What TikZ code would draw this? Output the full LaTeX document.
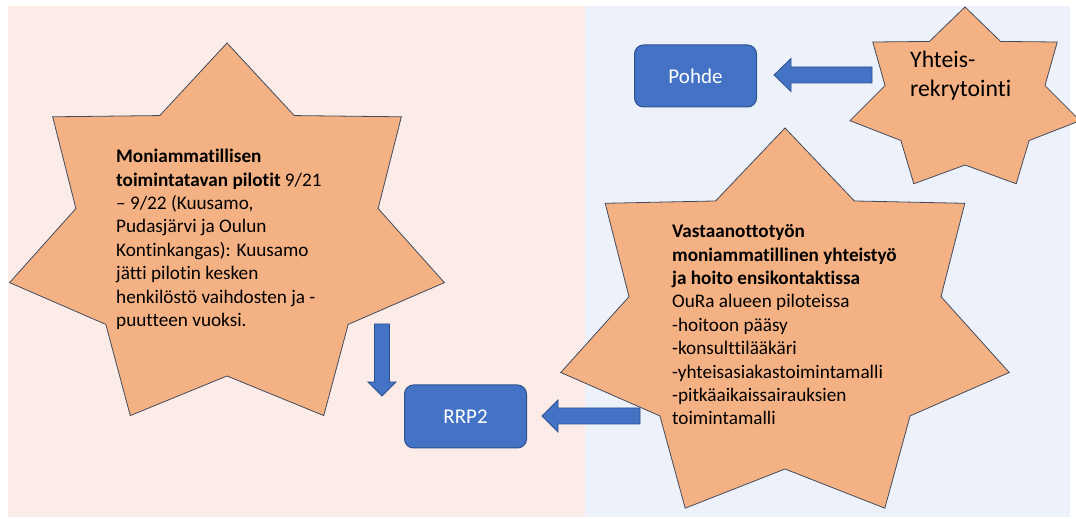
\documentclass[tikz,border=0pt]{standalone}
\usepackage{fontspec}
\setmainfont{Carlito}[Ligatures=NoCommon]
\usetikzlibrary{calc}
\definecolor{bgpink}{RGB}{251,236,232}
\definecolor{bgblue}{RGB}{237,241,249}
\definecolor{starfill}{RGB}{244,177,131}
\definecolor{starline}{RGB}{66,75,94}
\definecolor{boxfill}{RGB}{68,114,196}
\definecolor{boxline}{RGB}{47,82,143}
\tikzset{
  sevenstar/.style={fill=starfill, draw=starline, line width=0.8pt, line join=miter},
  bluebox/.style={rectangle, rounded corners=9pt, fill=boxfill, draw=boxline, line width=1pt,
    minimum width=122pt, minimum height=62pt, text=white, font=\fontsize{21}{25}\selectfont},
  startext/.style={anchor=north west, inner sep=0pt, align=left, font=\fontsize{19.2}{23.4}\selectfont},
  blockarrow/.style={fill=boxfill, draw=boxline, line width=0.8pt, line join=miter}
}
\begin{document}
\begin{tikzpicture}[x=1pt, y=1pt]
		\useasboundingbox (0,0) rectangle (1076,519);
		\fill[bgpink] (8,2) rectangle (585,513);
		\fill[bgblue] (585,2) rectangle (1070,513);
		% tähdet
		\begin{scope}[shift={(227,280)}]
			\draw[sevenstar] (90:223pt and 196pt) \foreach \k in {1,...,6}{
				-- ({90+(\k-0.5)*360/7}:155pt and 137pt) -- ({90+\k*360/7}:223pt and 196pt)}
				-- ({90-0.5*360/7}:155pt and 137pt) -- cycle;
		\end{scope}
		\begin{scope}[shift={(785,191)}]
			\draw[sevenstar] (90:230pt and 200pt) \foreach \k in {1,...,6}{
				-- ({90+(\k-0.5)*360/7}:160pt and 141pt) -- ({90+\k*360/7}:230pt and 200pt)}
				-- ({90-0.5*360/7}:160pt and 141pt) -- cycle;
		\end{scope}
		\begin{scope}[shift={(965,419)}]
			\draw[sevenstar] (90:118pt and 93pt) \foreach \k in {1,...,6}{
				-- ({90+(\k-0.5)*360/7}:82pt and 65pt) -- ({90+\k*360/7}:118pt and 93pt)}
				-- ({90-0.5*360/7}:82pt and 65pt) -- cycle;
		\end{scope}
		% tekstit
		\node[startext] (pilotit) at (116,370) {\textbf{Moniammatillisen}\\
			\textbf{toimintatavan pilotit} 9/21\\
			– 9/22 (Kuusamo,\\
			Pudasjärvi ja Oulun\\
			Kontinkangas): Kuusamo\\
			jätti pilotin kesken\\
			henkilöstö vaihdosten ja -\\
			puutteen vuoksi.};
		\node[startext] (vastaanotto) at (672,294.5) {\textbf{Vastaanottotyön}\\
			\textbf{moniammatillinen yhteistyö}\\
			\textbf{ja hoito ensikontaktissa}\\
			OuRa alueen piloteissa\\
			-hoitoon pääsy\\
			-konsulttilääkäri\\
			-yhteisasiakastoimintamalli\\
			-pitkäaikaissairauksien\\
			toimintamalli};
		\node[startext, font=\fontsize{23.7}{28.5}\selectfont] (rekry) at (910,468) {Yhteis-\\rekrytointi};
		% laatikot
		\node[bluebox] (pohde) at (695.5,443) {Pohde};
		\node[bluebox, minimum height=63pt] (rrp) at (465.5,102.5) {RRP2};
		% nuolet
		\coordinate (rekry-w) at (872,444);
		\coordinate (pohde-e) at ([xshift=17pt]pohde.east |- rekry-w);
		\coordinate (pilotit-s) at (382,195);
		\coordinate (rrp-nw) at ([xshift=-22pt,yshift=-11pt]rrp.north west);
		\coordinate (vastaanotto-w) at (640,103);
		\coordinate (rrp-e) at ([xshift=15pt]rrp.east |- vastaanotto-w);
		\draw[blockarrow] (pohde-e) -- ++(17,16.5) -- ++(0,-8.5) -- ($(rekry-w)+(0,8)$)
			-- ($(rekry-w)+(0,-8)$) -- ($(pohde-e)+(17,-8)$) -- ++(0,-8.5) -- cycle;
		\draw[blockarrow] (rrp-nw |- 0,123) -- ++(14,14) -- ++(-6.5,0) -- ($(pilotit-s)+(7.5,0)$)
			-- ($(pilotit-s)+(-7.5,0)$) -- ($(rrp-nw |- 0,123)+(-7.5,14)$) -- ++(-6.5,0) -- cycle;
		\draw[blockarrow] (rrp-e) -- ++(16,16) -- ++(0,-8) -- ($(vastaanotto-w)+(0,8)$)
			-- ($(vastaanotto-w)+(0,-8)$) -- ($(rrp-e)+(16,-8)$) -- ++(0,-8) -- cycle;
\end{tikzpicture}
\end{document}
